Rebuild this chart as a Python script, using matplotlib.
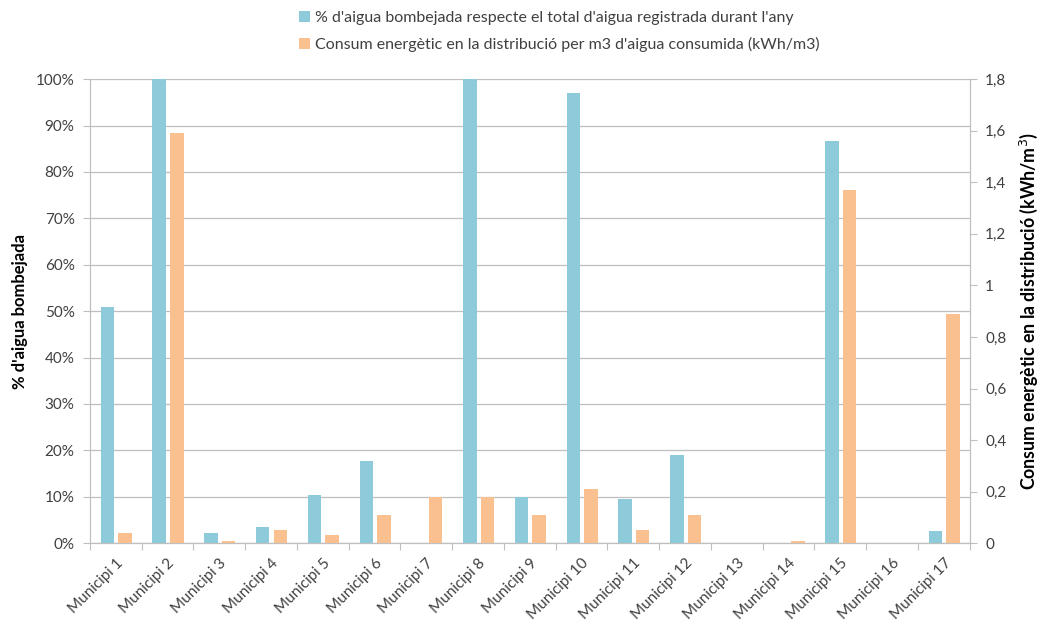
import matplotlib
matplotlib.use("Agg")
import matplotlib.pyplot as plt
import numpy as np
from matplotlib.ticker import FuncFormatter, MultipleLocator

plt.rcParams['font.family'] = ['Lato', 'DejaVu Sans']

categories = [f"Municipi {i}" for i in range(1, 18)]
pct_pumped = [51, 100, 2.2, 3.4, 10.3, 17.7, 0, 100, 9.9, 97, 9.5, 19, 0, 0, 86.7, 0, 2.6]
energy = [0.04, 1.59, 0.01, 0.05, 0.03, 0.11, 0.18, 0.18, 0.11, 0.21, 0.05, 0.11, 0, 0.01, 1.37, 0, 0.89]
label_pct = "% d'aigua bombejada respecte el total d'aigua registrada durant l'any"
label_en = "Consum energètic en la distribució per m3 d'aigua consumida (kWh/m3)"

blue = "#8DCBDB"
orange = "#FAC08F"
grid_c = "#BFBFBF"
text_c = "#404040"

fig = plt.figure(figsize=(10.45, 6.28), dpi=100)
ax = fig.add_axes([0.086, 0.135, 0.842, 0.739])
ax2 = ax.twinx()

x = np.arange(len(categories))
w = 0.26
ax.bar(x - 0.16, pct_pumped, width=w, color=blue, label=label_pct, zorder=3)
ax2.bar(x + 0.18, energy, width=w, color=orange, label=label_en, zorder=3)

ax.set_xlim(-0.5, len(categories) - 0.5)
ax.set_ylim(0, 100)
ax2.set_ylim(0, 1.8)
ax.yaxis.set_major_locator(MultipleLocator(10))
ax.yaxis.set_major_formatter(FuncFormatter(lambda v, p: f"{int(round(v))}%"))
ax2.yaxis.set_major_locator(MultipleLocator(0.2))
def fmt2(v, p):
    s = f"{v:.1f}".replace(".", ",")
    if s.endswith(",0"):
        s = s[:-2]
    return s
ax2.yaxis.set_major_formatter(FuncFormatter(fmt2))

ax.grid(axis='y', color=grid_c, linewidth=0.9, zorder=0)
ax.set_axisbelow(True)

ax.set_xticks(np.arange(-0.5, len(categories), 1))
ax.set_xticklabels([])
ax.set_xticks(x, minor=True)
ax.set_xticklabels(categories, minor=True, rotation=45, ha='right', va='top',
                   rotation_mode='anchor', fontsize=11, color=text_c)
ax.tick_params(axis='x', which='minor', length=0, pad=9)
ax.tick_params(axis='x', which='major', length=5, color=grid_c, direction='out')

for a in (ax, ax2):
    for s in a.spines.values():
        s.set_color(grid_c)
    a.spines['top'].set_visible(False)
ax.tick_params(axis='y', length=5, color=grid_c, labelsize=11, labelcolor=text_c, pad=6)
ax2.tick_params(axis='y', length=5, color=grid_c, labelsize=11, labelcolor=text_c, pad=6)

ax.set_ylabel("% d'aigua bombejada", fontsize=12, fontweight='bold', color='black', labelpad=6)
ax2.set_ylabel("Consum energètic en la distribució (kWh/m$^3$)", fontsize=12.8,
               fontweight='bold', color='black', labelpad=8)

h1, l1 = ax.get_legend_handles_labels()
h2, l2 = ax2.get_legend_handles_labels()
fig.legend(h1 + h2, l1 + l2, loc='upper left', bbox_to_anchor=(0.272, 1.005), ncol=1,
           frameon=False, fontsize=11.5, handlelength=0.7, handleheight=0.7,
           handletextpad=0.3, labelspacing=0.75, labelcolor=text_c)

fig.savefig("out.png", dpi=100)
